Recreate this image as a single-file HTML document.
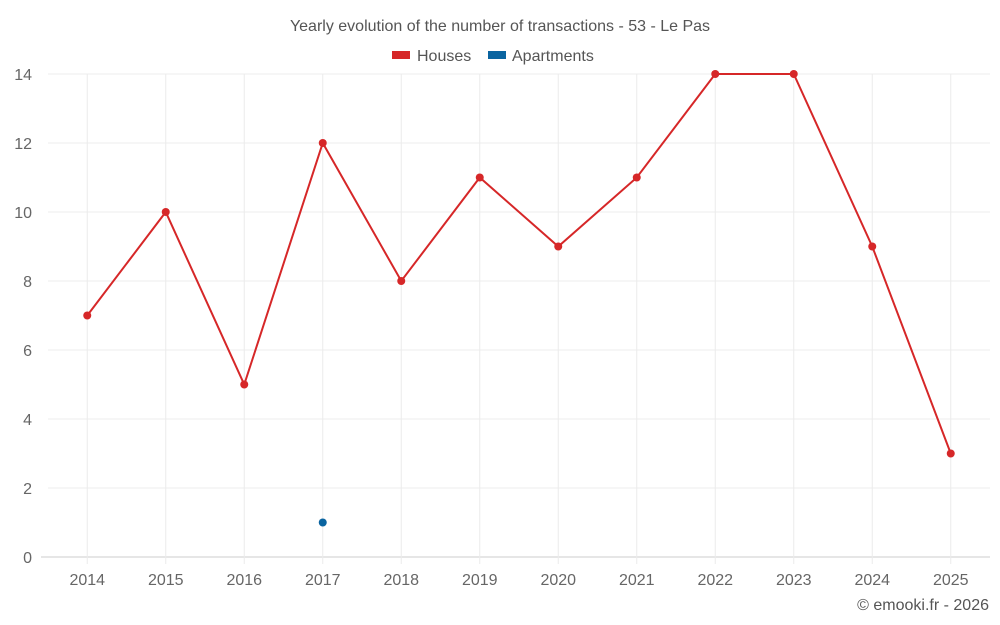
<!DOCTYPE html>
<html><head><meta charset="utf-8"><style>
body{margin:0;background:#fff;font-family:"Liberation Sans",sans-serif;}
svg{display:block}
</style></head><body>
<svg id="chart" width="1000" height="625">
<text x="500" y="31" text-anchor="middle" font-size="16" fill="#555">Yearly evolution of the number of transactions - 53 - Le Pas</text>
<g><rect x="392" y="51" width="18" height="8" fill="#d62728"/><text x="417" y="61" font-size="16" fill="#555">Houses</text></g>
<g><rect x="488" y="51" width="18" height="8" fill="#0a64a0"/><text x="512" y="61" font-size="16" fill="#555">Apartments</text></g>
<g id="grid"></g><g id="axes"></g><g id="series"></g>
<text x="989" y="610" text-anchor="end" font-size="16" fill="#555">© emooki.fr - 2026</text>
</svg>
<script>
const categories=["2014","2015","2016","2017","2018","2019","2020","2021","2022","2023","2024","2025"];
const houses=[7,10,5,12,8,11,9,11,14,14,9,3];
const apartments=[null,null,null,1,null,null,null,null,null,null,null,null];
const yTicks=[0,2,4,6,8,10,12,14];
const NS="http://www.w3.org/2000/svg";
const L=48,R=990,T=74,B=557,ymax=14;
const bw=(R-L)/categories.length;
const x=i=>L+bw*(i+0.5);
const y=v=>B-(B-T)*v/ymax;
function mk(tag,attrs,parent){const e=document.createElementNS(NS,tag);for(const k in attrs)e.setAttribute(k,attrs[k]);document.getElementById(parent).appendChild(e);return e;}
yTicks.forEach(t=>{
 const g=mk('line',{x1:t===0?41:L,x2:R,y1:y(t),y2:y(t),stroke:t===0?'#ccc':'#ececec','stroke-width':1},'grid');
 
 
 const lb=mk('text',{x:L-16,y:y(t)+6,'text-anchor':'end','font-size':16,fill:'#666'},'axes');
 lb.textContent=t;
 
 
});
categories.forEach((c,i)=>{
 const g=mk('line',{x1:x(i),x2:x(i),y1:T,y2:B+7,stroke:'#ececec'},'grid');
 
 
 const lb=mk('text',{x:x(i),y:B+28,'text-anchor':'middle','font-size':16,fill:'#666'},'axes');
 lb.textContent=c;
 
 
});
const pts=houses.map((v,i)=>x(i)+','+y(v)).join(' ');
const pl=mk('polyline',{points:pts,fill:'none',stroke:'#d62728','stroke-width':2},'series');


houses.forEach((v,i)=>{
 const c=mk('circle',{cx:x(i),cy:y(v),r:4,fill:'#d62728'},'series');
 
 
});
apartments.forEach((v,i)=>{
 if(v==null)return;
 const c=mk('circle',{cx:x(i),cy:y(v),r:4,fill:'#0a64a0'},'series');
 
 
});
</script>
</body></html>
